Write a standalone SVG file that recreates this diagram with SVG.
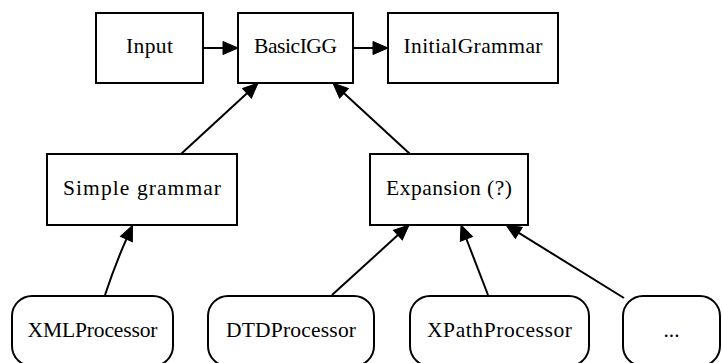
<svg xmlns="http://www.w3.org/2000/svg" width="722" height="363" viewBox="0 0 722 363">
<style>
.box{fill:#fff;stroke:#000;stroke-width:2}
.lbl{font-family:"Liberation Serif","Times New Roman",serif;font-size:21.5px;fill:#000;text-anchor:middle}
.edge{fill:none;stroke:#000;stroke-width:2;marker-end:url(#ah)}
</style>
<defs>
<marker id="ah" markerUnits="userSpaceOnUse" markerWidth="16" markerHeight="14" refX="0" refY="6.5" orient="auto" overflow="visible">
<path d="M0,0 L15,6.5 L0,13 Z" fill="#000" stroke="#000" stroke-width="1"/>
</marker>
</defs>
<rect width="722" height="363" fill="#fff"/>
<g id="edges">
<path class="edge" d="M203,48 L223,48"/>
<path class="edge" d="M353,48 L373,48"/>
<path class="edge" d="M181,154 L247,93.2"/>
<path class="edge" d="M410,154 L344,93.2"/>
<path class="edge" d="M105,295 C110,280 118,258 126.4,239.1"/>
<path class="edge" d="M332,295 L397.9,235.1"/>
<path class="edge" d="M488,295 L466.4,239"/>
<path class="edge" d="M624,298 L518.8,232.9"/>
</g>
<g id="Input"><rect class="box" x="96" y="13" width="107" height="70"/><text class="lbl" x="149.5" y="53" textLength="47" lengthAdjust="spacing">Input</text></g>
<g id="BasicIGG"><rect class="box" x="238" y="13" width="115" height="70"/><text class="lbl" x="295.5" y="53" textLength="83" lengthAdjust="spacing">BasicIGG</text></g>
<g id="InitialGrammar"><rect class="box" x="388" y="13" width="170" height="70"/><text class="lbl" x="473" y="53" textLength="139" lengthAdjust="spacing">InitialGrammar</text></g>
<g id="SimpleGrammar"><rect class="box" x="47" y="154" width="190" height="71"/><text class="lbl" x="142" y="195" textLength="158" lengthAdjust="spacing">Simple grammar</text></g>
<g id="Expansion"><rect class="box" x="370" y="154" width="158" height="71"/><text class="lbl" x="449" y="195" textLength="126" lengthAdjust="spacing">Expansion (?)</text></g>
<g id="XMLProcessor"><rect class="box" x="12" y="296" width="161" height="70" rx="20" ry="20"/><text class="lbl" x="92.5" y="337" textLength="130" lengthAdjust="spacing">XMLProcessor</text></g>
<g id="DTDProcessor"><rect class="box" x="208" y="296" width="166" height="70" rx="20" ry="20"/><text class="lbl" x="291" y="337" textLength="130" lengthAdjust="spacing">DTDProcessor</text></g>
<g id="XPathProcessor"><rect class="box" x="410" y="296" width="179" height="70" rx="20" ry="20"/><text class="lbl" x="499.5" y="337" textLength="145" lengthAdjust="spacing">XPathProcessor</text></g>
<g id="More"><rect class="box" x="623" y="296" width="97" height="70" rx="20" ry="20"/><text class="lbl" x="671.5" y="337">...</text></g>
</svg>
